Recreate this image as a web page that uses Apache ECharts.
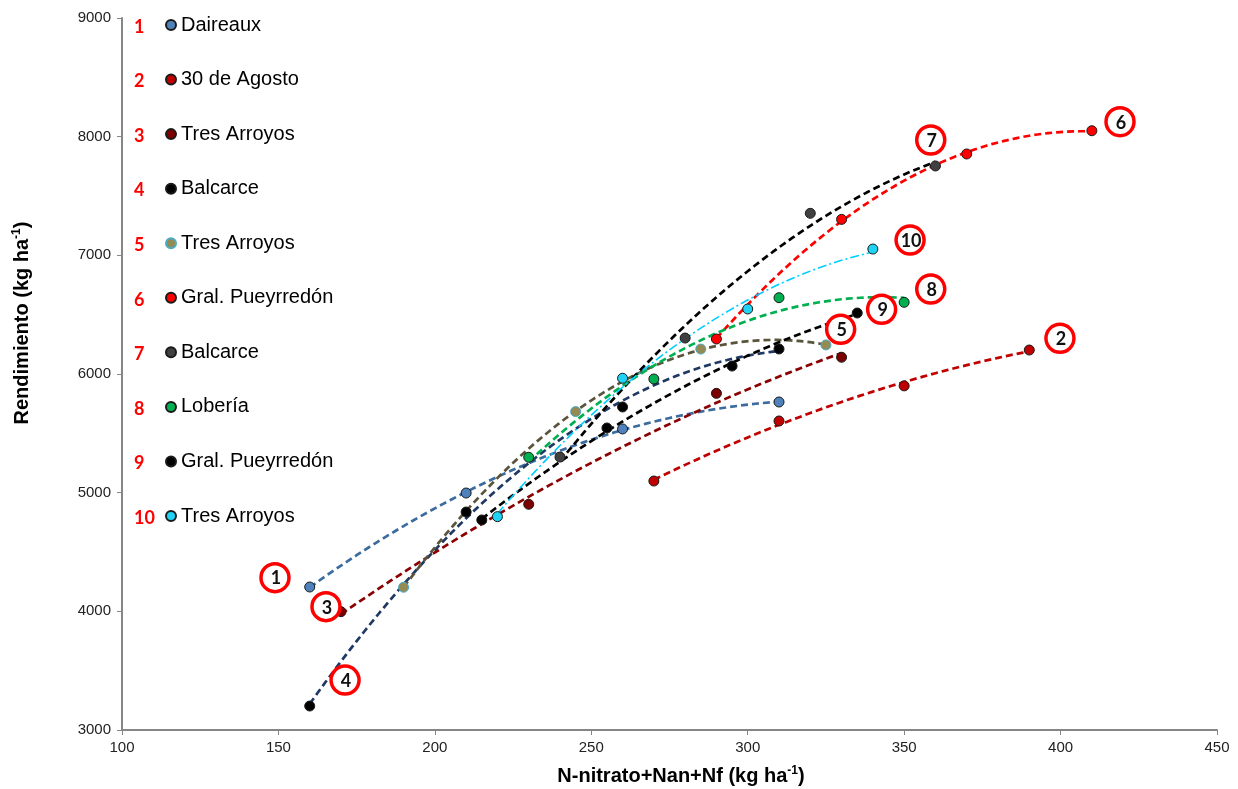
<!DOCTYPE html>
<html>
<head>
<meta charset="utf-8">
<script src="https://cdn.jsdelivr.net/npm/echarts@6/dist/echarts.min.js"></script>
<style>html,body{margin:0;padding:0;background:#fff}#c{width:1238px;height:789px}</style>
</head>
<body>
<div id="c"></div>
<script>
// ---- data ----
const siteNames = ['Daireaux','30 de Agosto','Tres Arroyos','Balcarce','Tres Arroyos','Gral. Pueyrredón','Balcarce','Lobería','Gral. Pueyrredón','Tres Arroyos'];
const s1x = [160,210,260,310],  s1y = [4205,4997,5537,5764];
const s2x = [270,310,350,390],  s2y = [5098,5604,5900,6202];
const s3x = [170,230,290,330],  s3y = [3997,4902,5837,6141];
const s4x = [160,210,260,310],  s4y = [3202,4837,5722,6211];
const s5x = [190,245,285,325],  s5y = [4203,5683,6210,6245];
const s6x = [290,330,370,410],  s6y = [6295,7303,7854,8050];
const s7x = [240,280,320,360],  s7y = [5300,6303,7354,7753];
const s8x = [230,270,310,350],  s8y = [5298,5958,6643,6604];
const s9x = [215,255,295,335],  s9y = [4770,5545,6067,6514];
const s10x = [220,260,300,340], s10y = [4798,5964,6548,7053];
// callout circles (numbered) positions in data units
const calloutNum = ['1','2','3','4','5','6','7','8','9','10'];
const calloutX = [148.9,399.8,165.2,171.3,329.7,419,358.5,358.5,342.8,351.9];
const calloutY = [4284,6301,4039,3421,6377,8126,7972,6716,6545,7129];
const xTicks = {min:100,max:450,interval:50};
const yTicks = {min:3000,max:9000,interval:1000};

const allX = [s1x,s2x,s3x,s4x,s5x,s6x,s7x,s8x,s9x,s10x];
const allY = [s1y,s2y,s3y,s4y,s5y,s6y,s7y,s8y,s9y,s10y];

// ---- styles ----
const markerFill = ['#4F81BD','#C00000','#7B0000','#000000','#948A54','#FF0000','#404040','#00B050','#000000','#1FD3F5'];
const markerBorder = ['#1a1a1a','#1a1a1a','#1a1a1a','#1a1a1a','#4BACC6','#1a1a1a','#1a1a1a','#1a1a1a','#1a1a1a','#1a1a1a'];
const lineColor = ['#3C6B9E','#C00000','#8B0000','#1F3864','#59543A','#FF0000','#000000','#00B050','#000000','#00CCFF'];

// quadratic least-squares trendline (like the spreadsheet's polynomial trendline)
function quadFit(xs, ys){
  let n=xs.length,S=[0,0,0,0,0],T=[0,0,0];
  for(let i=0;i<n;i++){let x=xs[i],y=ys[i];let p=1;for(let k=0;k<5;k++){S[k]+=p;p*=x;} T[0]+=y;T[1]+=y*x;T[2]+=y*x*x;}
  const A=[[S[0],S[1],S[2],T[0]],[S[1],S[2],S[3],T[1]],[S[2],S[3],S[4],T[2]]];
  for(let c=0;c<3;c++){
    let piv=c;for(let r=c+1;r<3;r++) if(Math.abs(A[r][c])>Math.abs(A[piv][c])) piv=r;
    [A[c],A[piv]]=[A[piv],A[c]];
    for(let r=0;r<3;r++){ if(r===c) continue; const f=A[r][c]/A[c][c]; for(let k=c;k<4;k++) A[r][k]-=f*A[c][k]; }
  }
  const a0=A[0][3]/A[0][0],a1=A[1][3]/A[1][1],a2=A[2][3]/A[2][2];
  const lo=Math.min(...xs),hi=Math.max(...xs),out=[];
  for(let i=0;i<=60;i++){const x=lo+(hi-lo)*i/60;out.push([x,a0+a1*x+a2*x*x]);}
  return out;
}

const series = [];
for(let i=0;i<10;i++){
  const isCyan = i===9;
  series.push({
    type:'line', name:'trend'+i, data:quadFit(allX[i],allY[i]), showSymbol:false, symbol:'none',
    smooth:false, silent:true, z:2,
    lineStyle:{color:lineColor[i], width:isCyan?1.6:2.7, type:isCyan?[9,3,2,3]:[7,4]}
  });
}
for(let i=0;i<10;i++){
  series.push({
    type:'scatter', name:'S'+(i+1), data:allX[i].map((x,k)=>[x,allY[i][k]]),
    symbol:'circle', symbolSize:10, z:4,
    itemStyle:{color:markerFill[i], borderColor:markerBorder[i], borderWidth:1, opacity:1}
  });
}
series.push({
  type:'scatter', name:'callouts', silent:true, z:6,
  data:calloutX.map((x,k)=>({value:[x,calloutY[k]], label:{formatter:calloutNum[k]}})),
  symbol:'circle', symbolSize:28,
  itemStyle:{color:'#ffffff', borderColor:'#FF0000', borderWidth:3.5, opacity:1},
  label:{show:true, position:'inside', color:'#111', fontFamily:'Lato', fontWeight:'bold', fontSize:18, offset:[1,1]}
});

const legendTop = 15, legendStep = 54.56;
const graphics = [];
for(let i=0;i<10;i++){
  graphics.push({type:'text', left:134, top: legendTop + i*legendStep + 3,
    style:{text:String(i+1), fill:'#FF0000', font:'bold 18px Lato'}});
}
graphics.push({type:'text', x:22, y:323, rotation:Math.PI/2,
  style:{text:'Rendimiento (kg ha{s|-1})', align:'center', verticalAlign:'middle', fill:'#000',
    font:'bold 20px "Liberation Sans"',
    rich:{s:{fontSize:12, fontWeight:'bold', fontFamily:'Liberation Sans', verticalAlign:'top', padding:[0,0,10,0]}}}});
graphics.push({type:'text', x:681, y:776,
  style:{text:'N-nitrato+Nan+Nf (kg ha{s|-1})', align:'center', verticalAlign:'middle', fill:'#000',
    font:'bold 20px "Liberation Sans"',
    rich:{s:{fontSize:12, fontWeight:'bold', fontFamily:'Liberation Sans', verticalAlign:'top', padding:[0,0,10,0]}}}});

const axisCommon = {
  axisLine:{show:true, onZero:false, lineStyle:{color:'#868686', width:2}},
  axisTick:{show:true, inside:false, length:5, lineStyle:{color:'#868686', width:1}},
  splitLine:{show:false},
  axisLabel:{color:'#222', fontFamily:'Liberation Sans', fontSize:15, formatter:(v)=>String(v)}
};

const option = {
  animation:false,
  backgroundColor:'#ffffff',
  grid:{left:122, right:21, top:18, bottom:59, containLabel:false},
  xAxis:Object.assign({type:'value', min:xTicks.min, max:xTicks.max, interval:xTicks.interval}, axisCommon,
    {axisLabel:Object.assign({}, axisCommon.axisLabel, {margin:10})}),
  yAxis:Object.assign({type:'value', min:yTicks.min, max:yTicks.max, interval:yTicks.interval}, axisCommon,
    {axisLabel:Object.assign({}, axisCommon.axisLabel, {margin:11})}),
  legend:{
    orient:'vertical', left:165, top:legendTop, padding:0, itemWidth:10, itemHeight:10, itemGap:legendStep-20,
    icon:'circle', selectedMode:false,
    data:siteNames.map((n,i)=>'S'+(i+1)),
    formatter:(name)=>siteNames[parseInt(name.slice(1))-1],
    textStyle:{fontFamily:'Liberation Sans', fontSize:20, color:'#000', lineHeight:20, padding:[0,0,0,0]}
  },
  graphic:graphics,
  series:series
};
const chart = echarts.init(document.getElementById('c'), null, {renderer:'canvas'});
chart.setOption(option);
</script>
</body>
</html>
